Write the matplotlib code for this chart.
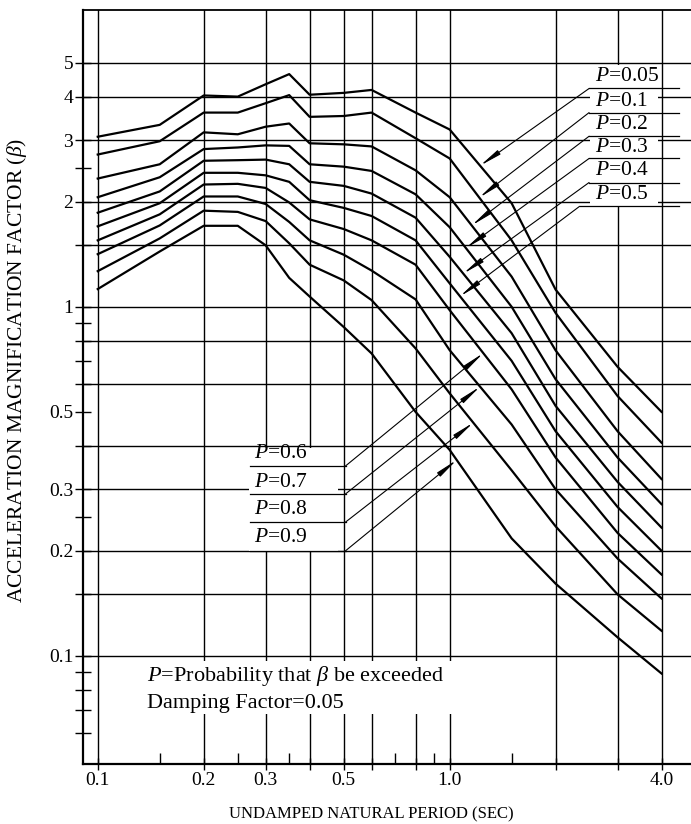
import numpy as np
import matplotlib
matplotlib.use('Agg')
import matplotlib.pyplot as plt
from matplotlib.patches import Rectangle

plt.rcParams['font.family'] = ['Liberation Serif', 'DejaVu Serif']
plt.rcParams['mathtext.fontset'] = 'custom'
plt.rcParams['mathtext.rm'] = 'Liberation Serif'
plt.rcParams['mathtext.it'] = 'Liberation Serif:italic'

# 读图数据 (周期 T, 放大系数 beta)
period = [0.1, 0.15, 0.2, 0.25, 0.3, 0.35, 0.4, 0.5, 0.6, 0.8, 1.0, 1.5, 2.0, 3.0, 4.0]
beta_005 = [3.07, 3.32, 4.03, 4.00, 4.34, 4.64, 4.05, 4.10, 4.18, 3.60, 3.22, 1.98, 1.12, 0.673, 0.500]
beta_01 = [2.73, 2.98, 3.60, 3.60, 3.83, 4.04, 3.50, 3.52, 3.60, 3.04, 2.66, 1.55, 0.96, 0.555, 0.408]
beta_02 = [2.33, 2.56, 3.16, 3.12, 3.28, 3.35, 2.94, 2.92, 2.88, 2.46, 2.06, 1.22, 0.75, 0.440, 0.321]
beta_03 = [2.06, 2.35, 2.83, 2.86, 2.90, 2.89, 2.56, 2.52, 2.45, 2.10, 1.69, 1.00, 0.62, 0.370, 0.272]
beta_04 = [1.86, 2.14, 2.62, 2.63, 2.64, 2.56, 2.28, 2.22, 2.11, 1.80, 1.39, 0.84, 0.52, 0.315, 0.233]
beta_05 = [1.70, 1.98, 2.42, 2.42, 2.38, 2.28, 2.02, 1.92, 1.82, 1.55, 1.167, 0.70, 0.44, 0.267, 0.200]
beta_06 = [1.55, 1.84, 2.24, 2.25, 2.19, 1.99, 1.78, 1.67, 1.55, 1.32, 0.978, 0.58, 0.37, 0.225, 0.171]
beta_07 = [1.415, 1.71, 2.07, 2.07, 1.97, 1.75, 1.55, 1.41, 1.27, 1.05, 0.751, 0.46, 0.30, 0.190, 0.146]
beta_08 = [1.265, 1.57, 1.885, 1.87, 1.76, 1.52, 1.32, 1.19, 1.045, 0.76, 0.565, 0.34, 0.235, 0.150, 0.118]
beta_09 = [1.124, 1.44, 1.706, 1.706, 1.50, 1.21, 1.07, 0.875, 0.735, 0.50, 0.389, 0.217, 0.161, 0.113, 0.089]

curves = [beta_005, beta_01, beta_02, beta_03, beta_04, beta_05, beta_06, beta_07, beta_08, beta_09]
p_labels = ['0.05', '0.1', '0.2', '0.3', '0.4', '0.5', '0.6', '0.7', '0.8', '0.9']

x_grid = [0.1, 0.2, 0.3, 0.4, 0.5, 0.6, 0.8, 1.0, 2.0, 3.0, 4.0]
x_ticks = [0.1, 0.2, 0.3, 0.5, 1.0, 4.0]
x_ticklabels = ['0.1', '0.2', '0.3', '0.5', '1.0', '4.0']
x_minor = [0.15, 0.25, 0.35, 0.7, 0.9, 1.5]
y_grid = [5, 4, 3, 2, 1.5, 1, 0.8, 0.6, 0.4, 0.3, 0.2, 0.15, 0.1]
y_ticks = [5, 4, 3, 2, 1, 0.5, 0.3, 0.2, 0.1]
y_ticklabels = ['5', '4', '3', '2', '1', '0.5', '0.3', '0.2', '0.1']
y_minor = [2.5, 1.5, 0.9, 0.8, 0.7, 0.6, 0.4, 0.25, 0.15, 0.09, 0.08, 0.07, 0.06]

fig = plt.figure(figsize=(6.91, 8.24), dpi=100)
ax = fig.add_axes([0.1201, 0.0728, 0.8799, 0.9150])
ax.set_xscale('log')
ax.set_yscale('log')
ax.set_xlim(0.0908, 4.85)
ax.set_ylim(0.049, 7.08)

# 网格
for x in x_grid:
    ax.axvline(x, color='black', lw=1.0, zorder=1)
for y in y_grid:
    ax.axhline(y, color='black', lw=1.0, zorder=1)

# 标注区域遮白
blocks = [(2.50, 1.95, 3.91, 4.93), (0.269, 0.20, 0.482, 0.395), (0.1318, 0.0683, 1.07, 0.0966)]
for x0, y0, x1, y1 in blocks:
    ax.add_patch(Rectangle((x0, y0), x1 - x0, y1 - y0, facecolor='white', edgecolor='none', zorder=2))

for b in curves:
    ax.plot(period, b, color='black', lw=1.6, zorder=3)


def on_curve(b, t):
    return 10 ** np.interp(np.log10(t), np.log10(period), np.log10(b))


arrow_kw = dict(arrowstyle='-|>,head_length=1.3,head_width=0.15', lw=0.8, color='black',
                shrinkA=0, shrinkB=0, mutation_scale=10)

# 上侧标签 P=0.05..0.5
up_text_y = [4.58, 3.88, 3.32, 2.855, 2.45, 2.10]
up_line_y = [4.22, 3.60, 3.08, 2.66, 2.27, 1.94]
up_start_x = [2.49, 2.49, 2.49, 2.49, 2.49, 2.34]
up_tip_x = [1.22, 1.214, 1.155, 1.112, 1.093, 1.07]
for i in range(6):
    ax.text(2.585, up_text_y[i], '$P$=' + p_labels[i], fontsize=15.5, va='center', ha='left', zorder=5)
    ax.plot([up_start_x[i], 4.48], [up_line_y[i], up_line_y[i]], color='black', lw=0.9, zorder=4)
    ax.annotate('', xy=(up_tip_x[i], on_curve(curves[i], up_tip_x[i])),
                xytext=(up_start_x[i], up_line_y[i]), arrowprops=arrow_kw, zorder=4)

# 下侧标签 P=0.6..0.9
lo_text_y = [0.381, 0.314, 0.262, 0.219]
lo_line_y = [0.350, 0.291, 0.2417, 0.200]
lo_tip_x = [1.246, 1.22, 1.167, 1.047]
for j in range(4):
    i = j + 6
    ax.text(0.278, lo_text_y[j], '$P$=' + p_labels[i], fontsize=15.5, va='center', ha='left', zorder=5)
    ax.plot([0.271, 0.506], [lo_line_y[j], lo_line_y[j]], color='black', lw=0.9, zorder=4)
    ax.annotate('', xy=(lo_tip_x[j], on_curve(curves[i], lo_tip_x[j])),
                xytext=(0.506, lo_line_y[j]), arrowprops=arrow_kw, zorder=4)

ax.text(0.138, 0.0878, r'$P$=Probability that $\beta$ be exceeded', fontsize=16, va='center', ha='left', zorder=5)
ax.text(0.138, 0.0730, 'Damping Factor=0.05', fontsize=16, va='center', ha='left', zorder=5)

# 坐标轴
ax.set_xticks(x_grid)
ax.set_xticklabels([x_ticklabels[x_ticks.index(x)] if x in x_ticks else '' for x in x_grid])
ax.set_xticks(x_minor, minor=True)
ax.set_yticks(y_ticks)
ax.set_yticklabels(y_ticklabels)
ax.set_yticks(y_minor, minor=True)
ax.yaxis.set_minor_formatter(plt.NullFormatter())
ax.xaxis.set_minor_formatter(plt.NullFormatter())
ax.tick_params(axis='x', which='major', direction='inout', length=8, width=1.0, labelsize=14, pad=2)
ax.tick_params(axis='x', which='minor', direction='in', length=8, width=1.0)
ax.tick_params(axis='y', which='both', direction='inout', length=12, width=1.0, labelsize=14, pad=1)

ax.spines['right'].set_visible(False)
ax.spines['left'].set_linewidth(1.6)
ax.spines['bottom'].set_linewidth(1.6)
ax.spines['top'].set_linewidth(1.3)

ax.set_xlabel('UNDAMPED NATURAL PERIOD (SEC)', fontsize=12)
ax.xaxis.set_label_coords(0.475, -0.056)
ax.set_ylabel(r'ACCELERATION MAGNIFICATION FACTOR ($\beta$)', fontsize=15.5)
ax.yaxis.set_label_coords(-0.088, 0.5225)

fig.savefig('out.png', dpi=100)
